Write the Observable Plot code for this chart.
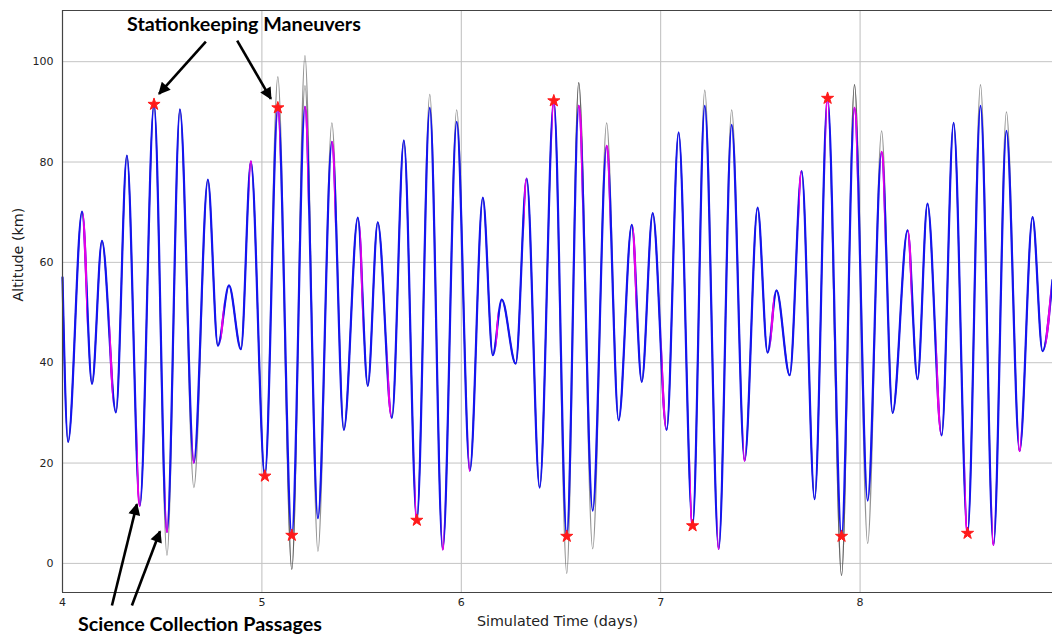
<!DOCTYPE html>
<html><head><meta charset="utf-8">
<script src="https://cdn.jsdelivr.net/npm/d3@7"></script>
<script src="https://cdn.jsdelivr.net/npm/@observablehq/plot@0.6"></script>
<style>
html,body{margin:0;padding:0;background:#fff;}
#chart svg{display:block;}
</style></head><body><div id="chart"></div>
<script>
// Simulated time (days) of each turning point of the altitude curve
const times = [4.000,4.028,4.098,4.148,4.198,4.268,4.323,4.388,4.459,4.524,
  4.589,4.659,4.729,4.779,4.835,4.895,4.945,5.015,5.080,5.150,
  5.216,5.281,5.351,5.411,5.481,5.531,5.581,5.652,5.712,5.777,
  5.842,5.907,5.977,6.043,6.108,6.158,6.203,6.273,6.328,6.393,
  6.464,6.529,6.589,6.659,6.729,6.789,6.855,6.905,6.960,7.030,
  7.090,7.160,7.221,7.291,7.356,7.421,7.486,7.536,7.581,7.647,
  7.707,7.772,7.837,7.907,7.972,8.038,8.108,8.163,8.238,8.288,
  8.338,8.409,8.469,8.539,8.604,8.669,8.734,8.800,8.865,8.915,
  8.965];
// Controlled altitude (km) at those turning points (blue)
const altitude = [57,24.2,70.1,35.8,64.3,30.1,81.3,11.5,91.5,6.3,
  90.5,20.1,76.5,43.4,55.4,42.7,80.1,17.4,90.8,5.6,
  91.0,9.0,84.0,26.6,68.9,35.4,68.0,29.0,84.3,8.6,
  90.8,2.8,88.0,18.5,72.9,41.5,52.6,39.8,76.7,15.1,
  92.2,5.4,91.2,10.5,83.2,28.5,67.5,36.2,69.8,26.6,
  85.9,7.5,91.2,2.9,87.4,20.5,70.9,42.0,54.4,37.5,
  78.2,12.8,92.7,5.4,90.8,12.5,82.0,30.0,66.4,36.7,
  71.7,25.5,87.8,6.0,91.2,3.7,86.2,22.4,69.0,42.3,
  56.5];
// Uncontrolled (gray) trajectories: turning points where they differ from the controlled one
const devTimesA = [4.524,4.659,5.080,5.150,5.216,5.281,5.351,5.842,5.977,6.529,6.589,6.659,6.729,7.221,7.356,7.907,7.972,8.038,8.108,8.604,8.734];
const devAltA   = [1.6,15.1,97.0,-1.2,101.2,2.4,87.8,93.5,90.4,-2.0,95.8,2.9,87.8,94.3,90.4,-2.4,95.4,4.0,86.2,95.4,90.0];
const devTimesB = [5.150,5.216,6.589,7.907,7.972];
const devAltB   = [-1.2,95.2,95.8,-2.4,95.4];
// Stationkeeping maneuvers (red stars)
const starTimes = [4.459,5.015,5.080,5.150,5.777,6.464,6.529,7.160,7.837,7.907,8.539];
const starAlt   = [91.5,17.4,90.8,5.6,8.6,92.2,5.4,7.5,92.7,5.4,6.0];
// Science collection passages (magenta), start / end time
const sciStart = [4.103,4.236,4.373,4.516,4.652,4.794,4.937,5.075,5.213,5.349,5.493,5.630,5.767,5.902,6.036,6.173,6.315,6.454,6.585,6.724,6.861,7.005,7.147,7.284,7.414,7.551,7.693,7.827,7.966,8.103,8.241,8.383,8.525,8.661,8.793,8.930];
const sciEnd   = [4.123,4.252,4.391,4.529,4.662,4.808,4.950,5.090,5.231,5.366,5.505,5.647,5.777,5.914,6.044,6.184,6.327,6.469,6.607,6.744,6.878,7.025,7.160,7.294,7.426,7.568,7.705,7.844,7.986,8.123,8.258,8.403,8.537,8.673,8.808,8.955];
// Axes
const xTicks = [4,5,6,7,8];
const yTicks = [0,20,40,60,80,100];
const xDomain = [4, 8.965];
const yDomain = [-5.8, 110.2];
// Annotations
const annoLabels = ["Stationkeeping Maneuvers", "Science Collection Passages"];
const annoT = [4.910, 4.689];
const annoAlt = [107.4, -12.3];
const arrowFromT = [4.719, 4.876, 4.248, 4.348];
const arrowFromAlt = [104.0, 104.2, -8.4, -8.4];
const arrowToT = [4.484, 5.045, 4.373, 4.489];
const arrowToAlt = [93.6, 92.6, 11.8, 6.4];

const W = 1052, H = 635;
const ctrl = times.map((t, i) => ({t, alt: altitude[i]}));
const mk = (dt, da) => times.map((t, i) => { const j = dt.indexOf(t); return {t, alt: j >= 0 ? da[j] : altitude[i]}; });
const grayA = mk(devTimesA, devAltA);
const grayB = mk(devTimesB, devAltB);
const stars = starTimes.map((t, i) => ({t, alt: starAlt[i]}));
const annos = annoLabels.map((s, i) => ({s, t: annoT[i], alt: annoAlt[i]}));
const arrows = arrowFromT.map((t, i) => ({x1: t, y1: arrowFromAlt[i], x2: arrowToT[i], y2: arrowToAlt[i]}));

const chart = Plot.plot({
  width: W, height: H,
  marginLeft: 62, marginRight: 0, marginTop: 10, marginBottom: 43,
  style: {fontFamily: "'DejaVu Sans', sans-serif", fontSize: "11px", color: "#222", background: "#fff", overflow: "visible"},
  x: {domain: xDomain},
  y: {domain: yDomain},
  marks: [
    Plot.gridX(xTicks.filter(d => d > xDomain[0]), {stroke: "#bdbdbd", strokeOpacity: 1, strokeWidth: 1}),
    Plot.gridY(yTicks, {stroke: "#c4c4c4", strokeOpacity: 1, strokeWidth: 1}),
    Plot.axisX(xTicks, {tickSize: 0, tickPadding: 6, label: null, tickFormat: d => String(d), fill: "#222"}),
    Plot.axisY(yTicks, {tickSize: 0, tickPadding: 9, label: null, fill: "#222"}),
    Plot.text(["Simulated Time (days)"], {frameAnchor: "bottom", dy: 33, fontSize: 14.3, fill: "#222"}),
    Plot.text(["Altitude (km)"], {frameAnchor: "left", rotate: -90, dx: -44, fontSize: 14.3, fill: "#222"}),
    Plot.line(grayA, {x: "t", y: "alt", curve: "monotone-x", stroke: "#3a3a3a", strokeOpacity: 0.55, strokeWidth: 1.3}),
    Plot.line(grayB, {x: "t", y: "alt", curve: "monotone-x", stroke: "#3a3a3a", strokeOpacity: 0.55, strokeWidth: 1.3}),
    Plot.line(ctrl, {x: "t", y: "alt", curve: "monotone-x", stroke: "#1414f0", strokeWidth: 2.2}),
    Plot.line(ctrl, {x: "t", y: "alt", curve: "monotone-x", stroke: "#e600e6", strokeWidth: 2.4}),
    Plot.ruleY([yDomain[1]], {stroke: "#444", strokeWidth: 1.2}),
    Plot.ruleY([yDomain[0]], {stroke: "#444", strokeWidth: 1.2}),
    Plot.ruleX([xDomain[0]], {stroke: "#444", strokeWidth: 1.2}),
    Plot.dot(stars, {x: "t", y: "alt", symbol: "star", r: 3.8, fill: "#ff1a1a", stroke: "#ff1a1a", strokeWidth: 1}),
    Plot.link(arrows, {x1: "x1", y1: "y1", x2: "x2", y2: "y2", stroke: "#000", strokeWidth: 2.6}),
    Plot.text(annos, {x: "t", y: "alt", text: "s", fontFamily: "Lato, 'Open Sans', sans-serif", fontWeight: "bold", fontSize: 19.7, fill: "#000"})
  ]
});
document.getElementById("chart").appendChild(chart);

// Clip the magenta copy of the curve to the science collection passages
const xs = chart.scale("x");
const ns = "http://www.w3.org/2000/svg";
const defs = document.createElementNS(ns, "defs");
const cp = document.createElementNS(ns, "clipPath");
cp.setAttribute("id", "sci-clip");
sciStart.forEach((s, i) => {
  const r = document.createElementNS(ns, "rect");
  const x0 = xs.apply(s), x1 = xs.apply(sciEnd[i]);
  r.setAttribute("x", x0); r.setAttribute("width", Math.max(0, x1 - x0));
  r.setAttribute("y", 0); r.setAttribute("height", H);
  cp.appendChild(r);
});
defs.appendChild(cp);
// Filled arrowhead for the annotation arrows
const mkr = document.createElementNS(ns, "marker");
mkr.setAttribute("id", "ahead");
mkr.setAttribute("viewBox", "0 0 10 10");
mkr.setAttribute("refX", "9"); mkr.setAttribute("refY", "5");
mkr.setAttribute("markerWidth", "15"); mkr.setAttribute("markerHeight", "12");
mkr.setAttribute("markerUnits", "userSpaceOnUse");
mkr.setAttribute("orient", "auto");
const mp = document.createElementNS(ns, "path");
mp.setAttribute("d", "M0,0L10,5L0,10Z"); mp.setAttribute("fill", "#000");
mkr.appendChild(mp);
defs.appendChild(mkr);
chart.insertBefore(defs, chart.firstChild);
const lines = chart.querySelectorAll('g[aria-label="line"]');
lines[lines.length - 1].setAttribute("clip-path", "url(#sci-clip)");
chart.querySelectorAll('g[aria-label="link"] path').forEach(p => p.setAttribute("marker-end", "url(#ahead)"));
</script></body></html>
